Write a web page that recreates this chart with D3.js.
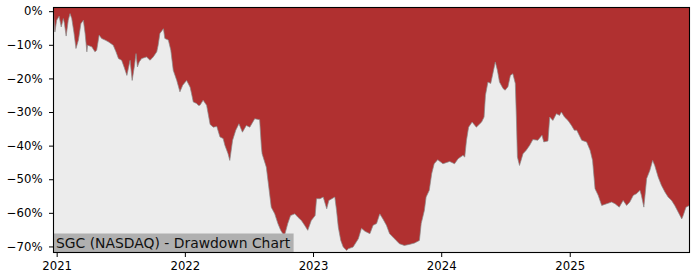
<!DOCTYPE html>
<html>
<head>
<meta charset="utf-8">
<script src="https://cdn.jsdelivr.net/npm/d3@7"></script>
<style>
  html, body { margin: 0; padding: 0; background: #ffffff; }
  svg { display: block; }
  text { font-family: "DejaVu Sans", sans-serif; }
</style>
</head>
<body>
<svg id="chart" width="700" height="280"></svg>
<script>
// ---- data ----
const dates = [
  "2020-12-23","2020-12-27","2021-01-01","2021-01-08","2021-01-14","2021-01-20","2021-01-23","2021-01-28",
  "2021-02-03","2021-02-08","2021-02-13","2021-02-19","2021-02-25","2021-03-04","2021-03-11","2021-03-18",
  "2021-03-23","2021-03-28","2021-03-30","2021-04-11","2021-04-20","2021-04-25","2021-05-02","2021-05-09",
  "2021-05-19","2021-05-28","2021-06-11","2021-06-19","2021-06-26","2021-07-05","2021-07-12","2021-07-20",
  "2021-07-24","2021-07-29","2021-08-04","2021-08-10","2021-08-15","2021-08-19","2021-08-24","2021-08-31",
  "2021-09-14","2021-09-24","2021-10-03","2021-10-13","2021-10-17","2021-10-22","2021-11-01","2021-11-05",
  "2021-11-15","2021-11-22","2021-11-29","2021-12-09","2021-12-18","2021-12-26","2022-01-06","2022-01-11",
  "2022-01-16","2022-01-20","2022-01-25","2022-02-04","2022-02-08","2022-02-13","2022-02-22","2022-03-04",
  "2022-03-14","2022-03-23","2022-04-02","2022-04-11","2022-04-20","2022-04-25","2022-05-04","2022-05-09",
  "2022-05-17","2022-05-26","2022-06-04","2022-06-14","2022-06-25","2022-07-05","2022-07-19","2022-08-02",
  "2022-08-07","2022-08-09","2022-08-21","2022-08-28","2022-09-04","2022-09-14","2022-09-23","2022-10-01",
  "2022-10-07","2022-10-12","2022-10-21","2022-10-29","2022-11-10","2022-11-19","2022-11-29","2022-12-08",
  "2022-12-17","2022-12-27","2023-01-07","2023-01-11","2023-01-21","2023-01-30","2023-02-09","2023-02-15",
  "2023-03-04","2023-03-09","2023-03-14","2023-03-21","2023-03-28","2023-04-07","2023-04-11","2023-04-25",
  "2023-05-10","2023-05-19","2023-05-29","2023-06-12","2023-06-21","2023-07-01","2023-07-10","2023-07-19",
  "2023-07-29","2023-08-07","2023-08-21","2023-09-04","2023-09-18","2023-10-02","2023-10-17","2023-10-31",
  "2023-11-05","2023-11-14","2023-11-19","2023-11-28","2023-12-05","2023-12-12","2023-12-22","2024-01-06",
  "2024-01-25","2024-02-08","2024-02-18","2024-03-03","2024-03-08","2024-03-13","2024-03-19","2024-03-29",
  "2024-04-10","2024-04-25","2024-05-02","2024-05-06","2024-05-13","2024-05-21","2024-05-27","2024-06-03",
  "2024-06-09","2024-06-15","2024-06-25","2024-07-01","2024-07-09","2024-07-16","2024-07-23","2024-07-30",
  "2024-08-02","2024-08-05","2024-08-11","2024-08-21","2024-08-30","2024-09-09","2024-09-18","2024-10-02",
  "2024-10-14","2024-10-19","2024-10-31","2024-11-05","2024-11-14","2024-11-24","2024-12-03","2024-12-08",
  "2024-12-17","2024-12-27","2025-01-06","2025-01-14","2025-01-21","2025-02-04","2025-02-18","2025-02-28",
  "2025-03-07","2025-03-14","2025-03-23","2025-04-02","2025-04-16","2025-04-30","2025-05-10","2025-05-22",
  "2025-06-02","2025-06-12","2025-06-21","2025-07-01","2025-07-10","2025-07-20","2025-07-24","2025-07-31",
  "2025-08-08","2025-08-17","2025-08-25","2025-08-31","2025-09-10","2025-09-19","2025-09-29","2025-10-08",
  "2025-10-18","2025-10-27","2025-11-06","2025-11-16","2025-11-20","2025-11-28","2025-12-08"
];
const drawdown = [
  0.0,-6.2,-2.7,-1.5,-4.7,-2.2,-3.6,-7.4,
  -2.7,-0.7,-2.2,-6.2,-11.1,-8.6,-3.7,-2.7,
  -6.6,-12.1,-10.1,-10.6,-12.1,-11.6,-7.1,-8.1,
  -8.6,-9.1,-10.1,-12.1,-14.1,-14.6,-16.6,-19.1,
  -17.1,-14.6,-20.6,-16.6,-12.6,-16.6,-15.1,-14.1,
  -13.6,-14.6,-13.6,-12.1,-10.1,-6.6,-5.2,-8.1,
  -8.6,-11.6,-17.6,-20.6,-24.0,-22.0,-20.6,-21.6,
  -22.6,-24.5,-27.0,-27.5,-28.0,-28.0,-26.5,-28.0,
  -33.7,-34.5,-34.3,-37.4,-37.9,-39.9,-42.4,-44.4,
  -38.4,-35.4,-33.5,-36.0,-34.0,-34.5,-32.0,-32.3,
  -40.4,-42.4,-46.4,-52.3,-58.3,-60.3,-63.2,-65.2,
  -66.2,-66.7,-63.2,-60.8,-60.3,-61.3,-62.3,-63.7,
  -65.2,-62.3,-60.8,-55.8,-55.8,-55.3,-58.8,-56.3,
  -55.3,-59.3,-64.3,-68.2,-70.2,-71.2,-70.7,-70.2,
  -67.7,-64.6,-65.5,-66.2,-63.7,-63.2,-60.3,-61.8,
  -63.7,-66.2,-67.7,-69.2,-69.7,-69.4,-69.0,-68.2,
  -63.2,-59.3,-55.3,-53.3,-48.3,-45.4,-44.2,-45.4,
  -44.7,-45.4,-43.9,-42.9,-43.4,-38.4,-34.5,-33.0,
  -34.5,-33.0,-31.5,-25.0,-21.1,-21.5,-18.6,-15.1,
  -17.6,-21.1,-23.0,-23.5,-22.5,-19.1,-18.6,-21.5,
  -31.5,-43.4,-45.9,-42.4,-41.4,-39.9,-38.2,-38.4,
  -36.9,-38.9,-38.6,-31.5,-32.5,-30.5,-31.0,-30.0,
  -31.5,-32.5,-34.0,-35.4,-35.4,-38.4,-38.9,-41.4,
  -44.4,-52.8,-54.8,-57.8,-57.3,-56.8,-57.3,-58.3,
  -56.3,-57.8,-56.8,-54.8,-54.3,-53.3,-54.8,-58.3,
  -49.8,-47.4,-44.4,-45.9,-49.4,-51.8,-53.8,-55.3,
  -56.3,-57.8,-59.8,-61.8,-60.8,-58.3,-57.8
];
const yTicks = [0, -10, -20, -30, -40, -50, -60, -70];
const xTickYears = [2021, 2022, 2023, 2024, 2025];
const chartLabel = "SGC (NASDAQ) - Drawdown Chart";

// ---- layout ----
const W = 700, H = 280;
const m = { left: 53.5, right: 10.5, top: 7.5, bottom: 27.5 };
const x0 = m.left, x1 = W - m.right, yTop = m.top, yBot = H - m.bottom;

const parse = d3.timeParse("%Y-%m-%d");
const data = dates.map((d, i) => ({ date: parse(d), v: drawdown[i] }));

const x = d3.scaleTime()
  .domain(d3.extent(data, d => d.date))
  .range([x0, x1]);
const y = d3.scaleLinear()
  .domain([-71.8, 1.1])
  .range([yBot, yTop]);

const svg = d3.select("#chart");

// plot background (red = drawdown region)
svg.append("rect")
  .attr("x", x0).attr("y", yTop)
  .attr("width", x1 - x0).attr("height", yBot - yTop)
  .attr("fill", "#b03030");

// light area below the drawdown curve
const area = d3.area()
  .x(d => x(d.date))
  .y0(yBot)
  .y1(d => y(d.v));
svg.append("path")
  .datum(data)
  .attr("d", area)
  .attr("fill", "#ececec");

const line = d3.line().x(d => x(d.date)).y(d => y(d.v));
svg.append("path")
  .datum(data)
  .attr("d", line)
  .attr("fill", "none")
  .attr("stroke", "#8a8a8a")
  .attr("stroke-width", 0.7);

// label box
const labelG = svg.append("g");
const labelText = labelG.append("text")
  .attr("x", x0 + 2.5)
  .attr("y", yBot - 5)
  .attr("font-size", "13.9px")
  .attr("fill", "#111")
  .text(chartLabel);
const tw = labelText.node().getComputedTextLength();
labelG.insert("rect", "text")
  .attr("x", x0)
  .attr("y", yBot - 19)
  .attr("width", tw + 6)
  .attr("height", 19)
  .attr("fill", "#b0b0b0");

// axes
const fmt = d => d === 0 ? "0%" : "\u2212" + Math.abs(d) + "%";
const yAxis = svg.append("g")
  .attr("transform", `translate(${x0},0)`)
  .call(d3.axisLeft(y).tickValues(yTicks).tickFormat(fmt).tickSize(4.5).tickPadding(6.5));
const xAxis = svg.append("g")
  .attr("transform", `translate(0,${yBot})`)
  .call(d3.axisBottom(x)
    .tickValues(xTickYears.map(yr => new Date(yr, 0, 1)))
    .tickFormat(d3.timeFormat("%Y"))
    .tickSize(4.5).tickPadding(5));
[yAxis, xAxis].forEach(g => {
  g.select(".domain").remove();
  g.selectAll("text")
    .attr("font-family", "DejaVu Sans, sans-serif")
    .attr("font-size", "11.7px")
    .attr("fill", "#000");
  g.selectAll("line").attr("stroke", "#000").attr("stroke-width", 1);
});

// frame
svg.append("rect")
  .attr("x", x0).attr("y", yTop)
  .attr("width", x1 - x0).attr("height", yBot - yTop)
  .attr("fill", "none")
  .attr("stroke", "#000")
  .attr("stroke-width", 1.1);
</script>
</body>
</html>
